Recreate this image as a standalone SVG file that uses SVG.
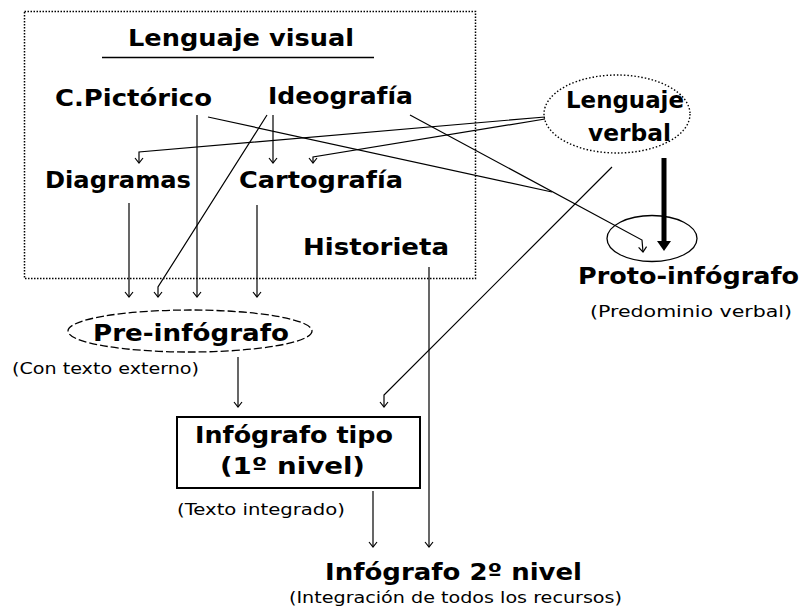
<svg xmlns="http://www.w3.org/2000/svg" width="807" height="613" viewBox="0 0 807 613">
<style>
.b{font-family:"DejaVu Sans","Liberation Sans",sans-serif;font-weight:bold;font-size:23px;fill:#000}
.s{font-family:"DejaVu Sans","Liberation Sans",sans-serif;font-size:16px;fill:#000}
.ln{fill:none;stroke:#000;stroke-width:1.2}
</style>
<defs>
<marker id="ah" markerUnits="userSpaceOnUse" markerWidth="12" markerHeight="12" viewBox="-6 -6 12 12" refX="0" refY="0" orient="auto">
<path d="M-5,-4 L0,0 L-5,4" fill="none" stroke="#000" stroke-width="1.2"/>
</marker>
</defs>
<rect width="807" height="613" fill="#fff"/>

<g id="lenguaje-visual">
<rect x="24.5" y="11.5" width="451" height="267" fill="none" stroke="#000" stroke-width="1.5" stroke-dasharray="1.5 1.5"/>
<text class="b" x="128" y="46" textLength="226" lengthAdjust="spacingAndGlyphs">Lenguaje visual</text>
<line x1="102" y1="57.5" x2="374" y2="57.5" stroke="#000" stroke-width="1.5"/>
</g>
<g id="c-pictorico"><text class="b" x="55" y="106" textLength="157" lengthAdjust="spacingAndGlyphs">C.Pictórico</text></g>
<g id="ideografia"><text class="b" x="268" y="104" textLength="145" lengthAdjust="spacingAndGlyphs">Ideografía</text></g>
<g id="diagramas"><text class="b" x="45" y="188" textLength="146" lengthAdjust="spacingAndGlyphs">Diagramas</text></g>
<g id="cartografia"><text class="b" x="239" y="188" textLength="164" lengthAdjust="spacingAndGlyphs">Cartografía</text></g>
<g id="historieta"><text class="b" x="303" y="255" textLength="146" lengthAdjust="spacingAndGlyphs">Historieta</text></g>

<g id="lenguaje-verbal">
<ellipse cx="617" cy="114" rx="73" ry="39" fill="none" stroke="#000" stroke-width="1.4" stroke-dasharray="1.5 2"/>
<text class="b" x="566" y="108" textLength="118" lengthAdjust="spacingAndGlyphs">Lenguaje</text>
<text class="b" x="588" y="141" textLength="83" lengthAdjust="spacingAndGlyphs">verbal</text>
</g>

<g id="proto-infografo">
<ellipse cx="652" cy="238.5" rx="45" ry="23" fill="none" stroke="#000" stroke-width="1.3"/>
<text class="b" x="578" y="284" textLength="221" lengthAdjust="spacingAndGlyphs">Proto-infógrafo</text>
<text class="s" x="590" y="317" textLength="202" lengthAdjust="spacingAndGlyphs">(Predominio verbal)</text>
</g>

<g id="pre-infografo">
<ellipse cx="190" cy="331" rx="122" ry="21" fill="none" stroke="#000" stroke-width="1.3" stroke-dasharray="8 3"/>
<text class="b" x="93" y="341" textLength="196" lengthAdjust="spacingAndGlyphs">Pre-infógrafo</text>
<text class="s" x="12" y="374" textLength="187" lengthAdjust="spacingAndGlyphs">(Con texto externo)</text>
</g>

<g id="infografo-tipo">
<rect x="177" y="417" width="243" height="71" fill="none" stroke="#000" stroke-width="2"/>
<text class="b" x="195" y="443" textLength="198" lengthAdjust="spacingAndGlyphs">Infógrafo tipo</text>
<text class="b" x="220" y="474" textLength="145" lengthAdjust="spacingAndGlyphs">(1º  nivel)</text>
<text class="s" x="177" y="515" textLength="168" lengthAdjust="spacingAndGlyphs">(Texto integrado)</text>
</g>

<g id="infografo-2-nivel">
<text class="b" x="325" y="580" textLength="257" lengthAdjust="spacingAndGlyphs">Infógrafo 2º nivel</text>
<text class="s" x="289" y="603" textLength="333" lengthAdjust="spacingAndGlyphs">(Integración de todos los recursos)</text>
</g>

<g id="connectors">
<polyline class="ln" points="197,115 197,297" marker-end="url(#ah)"/>
<polyline class="ln" points="208,117 552,192"/>
<polyline class="ln" points="410,115 642,240 643,252" marker-end="url(#ah)"/>
<polyline class="ln" points="273,115 273,163" marker-end="url(#ah)"/>
<polyline class="ln" points="267,115 158,287 158,297" marker-end="url(#ah)"/>
<polyline class="ln" points="129,203 129,297" marker-end="url(#ah)"/>
<polyline class="ln" points="257,205 257,297" marker-end="url(#ah)"/>
<polyline class="ln" points="429,267 429,547" marker-end="url(#ah)"/>
<polyline class="ln" points="545,117 139,152 139,163" marker-end="url(#ah)"/>
<polyline class="ln" points="545,119 313,157 313,163" marker-end="url(#ah)"/>
<polyline class="ln" points="612,167 384,395 384,407" marker-end="url(#ah)"/>
<polyline class="ln" points="238,357 238,407" marker-end="url(#ah)"/>
<polyline class="ln" points="373,491 373,547" marker-end="url(#ah)"/>
<polygon points="661.5,158 666.5,158 666.5,241 671,241 664,251 657,241 661.5,241" fill="#000"/>
</g>
</svg>
